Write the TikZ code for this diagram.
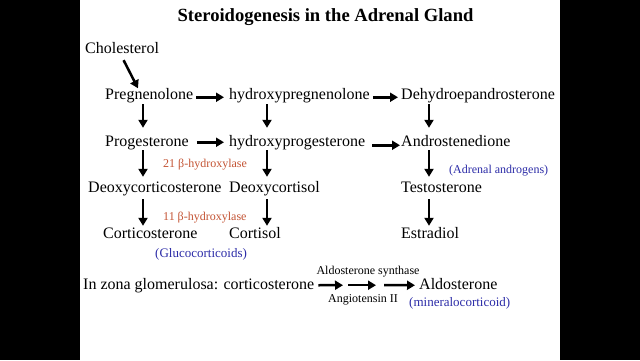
\documentclass[tikz,border=0pt]{standalone}
\usepackage{fontspec}
\setmainfont{Liberation Serif}
\usetikzlibrary{arrows.meta}
\definecolor{enzred}{RGB}{196,84,52}
\definecolor{grpblue}{RGB}{44,44,168}
\begin{document}
\begin{tikzpicture}[x=1pt,y=-1pt,
  mol/.style={anchor=base west,inner sep=0pt,text height=11pt,text depth=3.5pt,font=\fontsize{16}{19}\selectfont},
  enz/.style={anchor=base west,inner sep=0pt,text=enzred,font=\fontsize{12}{14}\selectfont},
  grp/.style={anchor=base west,inner sep=0pt,text=grpblue,font=\fontsize{13}{15}\selectfont},
  small/.style={anchor=base,inner sep=0pt,font=\fontsize{12}{14}\selectfont},
  arr/.style={line width=2.5pt,-{Triangle[length=8pt,width=9pt]}}]
\useasboundingbox (0,0) rectangle (640,360);
\fill[black] (0,0) rectangle (640,360);
\fill[white] (80,0) rectangle (560,360);
% title
\node[anchor=base,inner sep=0pt,font=\fontsize{18.6}{22}\selectfont\bfseries] (title) at (325.5,21) {Steroidogenesis in the Adrenal Gland};
% molecules
\node[mol] (chol) at (85,53) {Cholesterol};
\node[mol] (preg) at (105,99.5) {Pregnenolone};
\node[mol] (hpreg) at (229,99.5) {hydroxypregnenolone};
\node[mol] (dhea) at (401,99.5) {Dehydroepandrosterone};
\node[mol] (prog) at (105,146) {Progesterone};
\node[mol] (hprog) at (229,146) {hydroxyprogesterone};
\node[mol] (andro) at (401,146) {Androstenedione};
\node[mol] (doc) at (88,192) {Deoxycorticosterone};
\node[mol] (dcort) at (229,192) {Deoxycortisol};
\node[mol] (testo) at (401,192) {Testosterone};
\node[mol] (corticost) at (103,238) {Corticosterone};
\node[mol] (cortisol) at (229,238) {Cortisol};
\node[mol] (estra) at (401,238) {Estradiol};
\node[mol] (zg) at (83,289) {In zona glomerulosa: corticosterone};
\node[mol] (aldo) at (419,289) {Aldosterone};
% labels
\node[enz] (e21) at (163,167) {21 β-hydroxylase};
\node[enz] (e11) at (163,220) {11 β-hydroxylase};
\node[grp] (andg) at (449,173) {\fontsize{12}{14}\selectfont(Adrenal androgens)};
\node[grp] (gluc) at (155,257) {(Glucocorticoids)};
\node[grp] (mineral) at (409,306) {(mineralocorticoid)};
\node[small] (synth) at (368,274) {Aldosterone synthase};
\node[small] (angio) at (363,302) {Angiotensin II};
% column guides
\coordinate (c1) at (143,0);
\coordinate (c2) at (267,0);
\coordinate (c3) at (429,0);
\coordinate (j1) at (345.5,285.2);
\coordinate (j2) at (380,285.2);
% cholesterol arrow
\draw[arr] ([shift={(1.5,3.5)}]chol.south) -- ([xshift=33pt]preg.north west);
% horizontal arrows
\draw[arr,shorten <=3pt,shorten >=5pt] ([yshift=-1.5pt]preg.east) -- ([yshift=-1.5pt]hpreg.west);
\draw[arr,shorten <=3pt,shorten >=3pt] ([yshift=-1.5pt]hpreg.east) -- ([yshift=-1.5pt]dhea.west);
\draw[arr,shorten <=8pt,shorten >=5pt] (prog.east) -- (hprog.west);
\draw[arr,shorten <=7pt,shorten >=1pt] ([yshift=-3pt]hprog.east) -- ([yshift=-3pt]andro.west);
% vertical arrows
\draw[arr,shorten <=1pt,shorten >=7pt] (c1 |- preg.south) -- (c1 |- prog.north);
\draw[arr,shorten <=1pt,shorten >=7pt] (c2 |- hpreg.south) -- (c2 |- hprog.north);
\draw[arr,shorten <=1pt,shorten >=7pt] (c3 |- dhea.south) -- (c3 |- andro.north);
\draw[arr,shorten <=0.5pt,shorten >=4pt] (c1 |- prog.south) -- (c1 |- doc.north);
\draw[arr,shorten <=0.5pt,shorten >=4pt] (c2 |- hprog.south) -- (c2 |- dcort.north);
\draw[arr,shorten <=0.5pt,shorten >=4pt] (c3 |- andro.south) -- (c3 |- testo.north);
\draw[arr,shorten <=3.5pt,shorten >=1pt] (c1 |- doc.south) -- (c1 |- corticost.north);
\draw[arr,shorten <=3.5pt,shorten >=1pt] (c2 |- dcort.south) -- (c2 |- cortisol.north);
\draw[arr,shorten <=3.5pt,shorten >=1pt] (c3 |- testo.south) -- (c3 |- estra.north);
% zona glomerulosa arrows
\draw[arr,shorten <=4pt,shorten >=2.5pt] (zg.east) -- (j1);
\draw[arr,shorten <=2.5pt,shorten >=4pt] (j1) -- (j2);
\draw[arr,shorten <=4pt,shorten >=4pt] (j2) -- (aldo.west);
\end{tikzpicture}
\end{document}
